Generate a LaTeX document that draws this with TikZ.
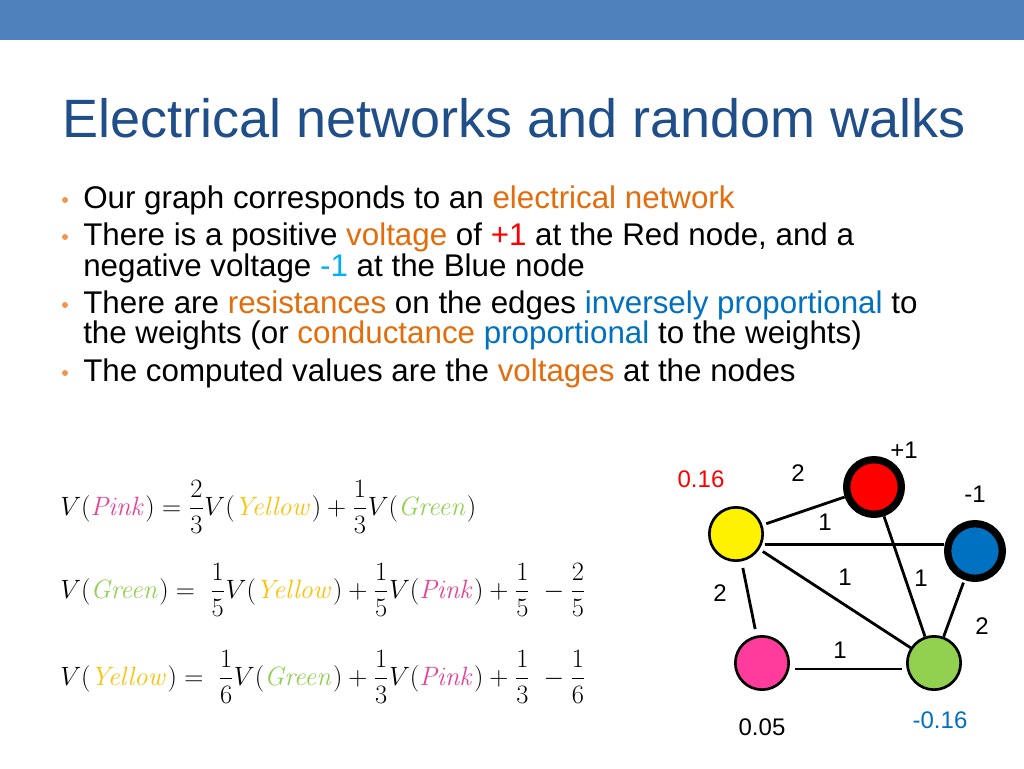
\documentclass[tikz,border=0pt]{standalone}
\usepackage{amsmath, amssymb}
\usepackage[no-math]{fontspec}
\setmainfont{Liberation Sans}
\usepackage{tikz}
\usetikzlibrary{calc,positioning}
\definecolor{barblue}{RGB}{79,129,189}
\definecolor{titleblue}{RGB}{31,78,137}
\definecolor{dotorange}{RGB}{240,150,80}
\definecolor{hlorange}{RGB}{228,108,10}
\definecolor{hlblue}{RGB}{0,112,192}
\definecolor{hlcyan}{RGB}{0,176,240}
\definecolor{eqpink}{RGB}{232,64,150}
\definecolor{eqyellow}{RGB}{255,192,0}
\definecolor{eqgreen}{RGB}{146,208,80}
\definecolor{nodepink}{RGB}{255,60,155}
\definecolor{nodeblue}{RGB}{0,112,192}
\newcommand{\pk}{\textcolor{eqpink}{\mathit{Pink}}}
\newcommand{\yl}{\textcolor{eqyellow}{\mathit{Yellow}}}
\newcommand{\gn}{\textcolor{eqgreen}{\mathit{Green}}}
\newcommand{\hlo}[1]{\textcolor{hlorange}{#1}}
\newcommand{\hlb}[1]{\textcolor{hlblue}{#1}}
\newcommand{\eqbox}[1]{\scalebox{1.15}{$#1$}}
\tikzset{
  line/.style={anchor=base west, inner sep=0pt, font=\fontsize{23.5}{26}\selectfont},
  dot/.style={circle, fill=dotorange, inner sep=0pt, minimum size=4.5pt},
  eq/.style={anchor=west, inner sep=0pt, font=\fontsize{17.28}{20}\selectfont},
  vert/.style={circle, draw=black, line width=2pt, minimum size=40pt, inner sep=0pt},
  source/.style={vert, line width=5.5pt, minimum size=41pt},
  wt/.style={font=\fontsize{18}{20}\selectfont, inner sep=0pt},
  edge/.style={line width=2.1pt}
}
\begin{document}
\begin{tikzpicture}[x=0.75pt, y=-0.75pt]
  \useasboundingbox (0,0) rectangle (1024,768);
  \fill[barblue] (0,0) rectangle (1024,40);
  \node[anchor=base west, inner sep=0pt, text=titleblue, font=\fontsize{40.5}{44}\selectfont] (title) at (62,137) {Electrical networks and random walks};
  % bullets
  \node[dot] (b1) at (65,200) {};
  \node[line] (l1) at (83,208) {Our graph corresponds to an \hlo{electrical network}};
  \node[dot] (b2) at (65,237) {};
  \node[line] (l2) at (83,245) {There is a positive \hlo{voltage} of \textcolor{red}{+1} at the Red node, and a};
  \node[line] (l3) at (83,276) {negative voltage \textcolor{hlcyan}{-1} at the Blue node};
  \node[dot] (b3) at (65,305) {};
  \node[line] (l4) at (83,313) {There are \hlo{resistances} on the edges \hlb{inversely proportional} to};
  \node[line] (l5) at (83,343) {the weights (or \hlo{conductance} \hlb{proportional} to the weights)};
  \node[dot] (b4) at (65,373) {};
  \node[line] (l6) at (83,381) {The computed values are the \hlo{voltages} at the nodes};
  % equations
  \node[eq] (e1) at (60,507) {\eqbox{V(\pk)=\dfrac{2}{3}V(\yl)+\dfrac{1}{3}V(\gn)}};
  \node[eq] (e2) at (60,590) {\eqbox{V(\gn)=\;\dfrac{1}{5}V(\yl)+\dfrac{1}{5}V(\pk)+\dfrac{1}{5}\;-\dfrac{2}{5}}};
  \node[eq] (e3) at (60,677) {\eqbox{V(\yl)=\;\dfrac{1}{6}V(\gn)+\dfrac{1}{3}V(\pk)+\dfrac{1}{3}\;-\dfrac{1}{6}}};
  % graph
  \node[vert, fill=yellow] (yellow) at (736,534) {};
  \node[source, fill=red] (red) at (874,487) {};
  \node[source, fill=nodeblue] (blue) at (975,551) {};
  \node[vert, fill=nodepink] (pink) at (762,663) {};
  \node[vert, fill=eqgreen] (green) at (934,663) {};
  \draw[edge, shorten <=3pt] (yellow) -- (red);
  \draw[edge, shorten <=2pt] (yellow.-22) -- (yellow.-22 -| blue.west);
  \draw[edge, shorten <=3pt] (yellow) -- (green);
  \draw[edge, shorten <=5pt, shorten >=5pt] (yellow) -- (pink);
  \draw[edge, shorten <=4pt, shorten >=3pt] ([yshift=-4.5pt]pink.east) -- ([yshift=-4.5pt]green.west);
  \draw[edge] (red) -- (green);
  \draw[edge, shorten <=2pt] (blue) -- (green);
  \node[wt] (w1) at (798,473) {2};
  \node[wt] (w2) at (825,522) {1};
  \node[wt] (w3) at (845,577) {1};
  \node[wt] (w4) at (921,578) {1};
  \node[wt] (w5) at (720,593) {2};
  \node[wt] (w6) at (982,626) {2};
  \node[wt] (w7) at (840,650) {1};
  \node[wt] (vr) at (904,450) {+1};
  \node[wt] (vb) at (975,494) {-1};
  \node[wt, text=red] (vy) at (701,479) {0.16};
  \node[wt, text=hlblue] (vg) at (940,720) {-0.16};
  \node[wt] (vp) at (762,727) {0.05};
\end{tikzpicture}
\end{document}
